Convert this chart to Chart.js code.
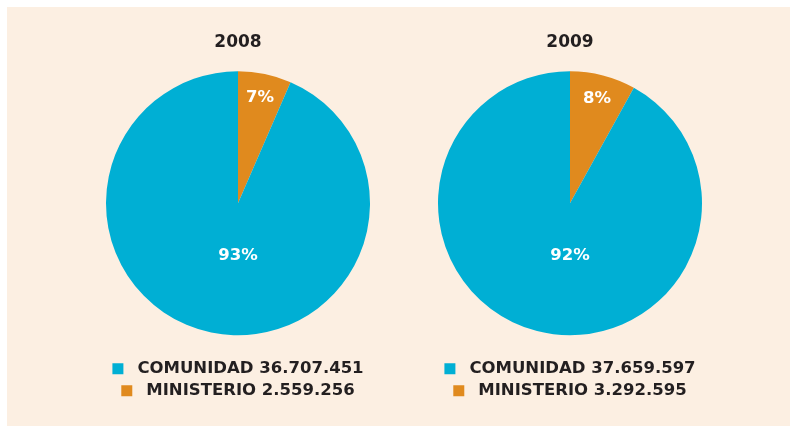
<!DOCTYPE html>
<html>
<head>
<meta charset="utf-8">
<script src="https://cdn.jsdelivr.net/npm/chart.js@4"></script>
<style>
  html, body { margin: 0; padding: 0; background: #ffffff; }
  body { width: 790px; height: 426px; position: relative; overflow: hidden; }
  #panel { position: absolute; left: 7px; top: 7px; width: 783px; height: 419px; background: #fcefe2; }
  .box { position: absolute; top: 20px; width: 330px; height: 389px; }
  #c1 { left: 73px; }
  #c2 { left: 405px; }
</style>
</head>
<body>
<div id="panel"></div>
<div class="box" id="c1"><canvas id="chart2008"></canvas></div>
<div class="box" id="c2"><canvas id="chart2009"></canvas></div>
<script>
// ---- data ----
const years = ['2008', '2009'];
const categories = ['MINISTERIO', 'COMUNIDAD'];
const values2008 = [2559256, 36707451];
const values2009 = [3292595, 37659597];
const colors = ['#e08a1e', '#00afd4'];

function fmt(n) {
  return String(n).replace(/\B(?=(\d{3})+(?!\d))/g, '.');
}

const FONT = "'DejaVu Sans', sans-serif";

// Percentage labels: small slice near the rim, the large slice below the centre
const pctLabels = {
  id: 'pctLabels',
  afterDatasetsDraw(chart) {
    const ctx = chart.ctx;
    const meta = chart.getDatasetMeta(0);
    const data = chart.data.datasets[0].data;
    const total = data.reduce((a, b) => a + b, 0);
    ctx.save();
    ctx.fillStyle = '#ffffff';
    ctx.font = 'bold 16.5px ' + FONT;
    ctx.textAlign = 'center';
    ctx.textBaseline = 'middle';
    meta.data.forEach((arc, i) => {
      const p = arc.getProps(['x', 'y', 'startAngle', 'endAngle', 'outerRadius']);
      const frac = data[i] / total;
      let ang, r;
      if (frac < 0.5) {
        ang = (p.startAngle + p.endAngle) / 2;
        r = p.outerRadius * 0.82;
      } else {
        ang = Math.PI / 2;
        r = p.outerRadius * 0.4;
      }
      const x = p.x + Math.cos(ang) * r;
      const y = p.y + Math.sin(ang) * r;
      ctx.fillText(Math.round(frac * 100) + '%', x, y);
    });
    ctx.restore();
  }
};

function makeChart(id, year, values) {
  return new Chart(document.getElementById(id), {
    type: 'pie',
    data: {
      labels: categories.map((c, i) => ' ' + c + ' ' + fmt(values[i])),
      datasets: [{
        data: values,
        backgroundColor: colors,
        borderWidth: 0,
        hoverOffset: 0,
        offset: 0
      }]
    },
    options: {
      responsive: true,
      maintainAspectRatio: false,
      animation: false,
      layout: { padding: { left: 33, right: 33, top: 0, bottom: 0 } },
      plugins: {
        tooltip: { enabled: false },
        title: {
          display: true,
          text: year,
          color: '#231f20',
          font: { family: FONT, size: 17, weight: 'bold', lineHeight: 1 },
          padding: { top: 14.5, bottom: 0 }
        },
        legend: {
          position: 'bottom',
          reverse: true,
          labels: {
            color: '#231f20',
            boxWidth: 11,
            boxHeight: 11,
            padding: 5.5,
            font: { family: FONT, size: 16.5, weight: 'bold' }
          }
        }
      }
    },
    plugins: [pctLabels]
  });
}

Chart.defaults.font.family = FONT;
makeChart('chart2008', years[0], values2008);
makeChart('chart2009', years[1], values2009);
</script>
</body>
</html>
